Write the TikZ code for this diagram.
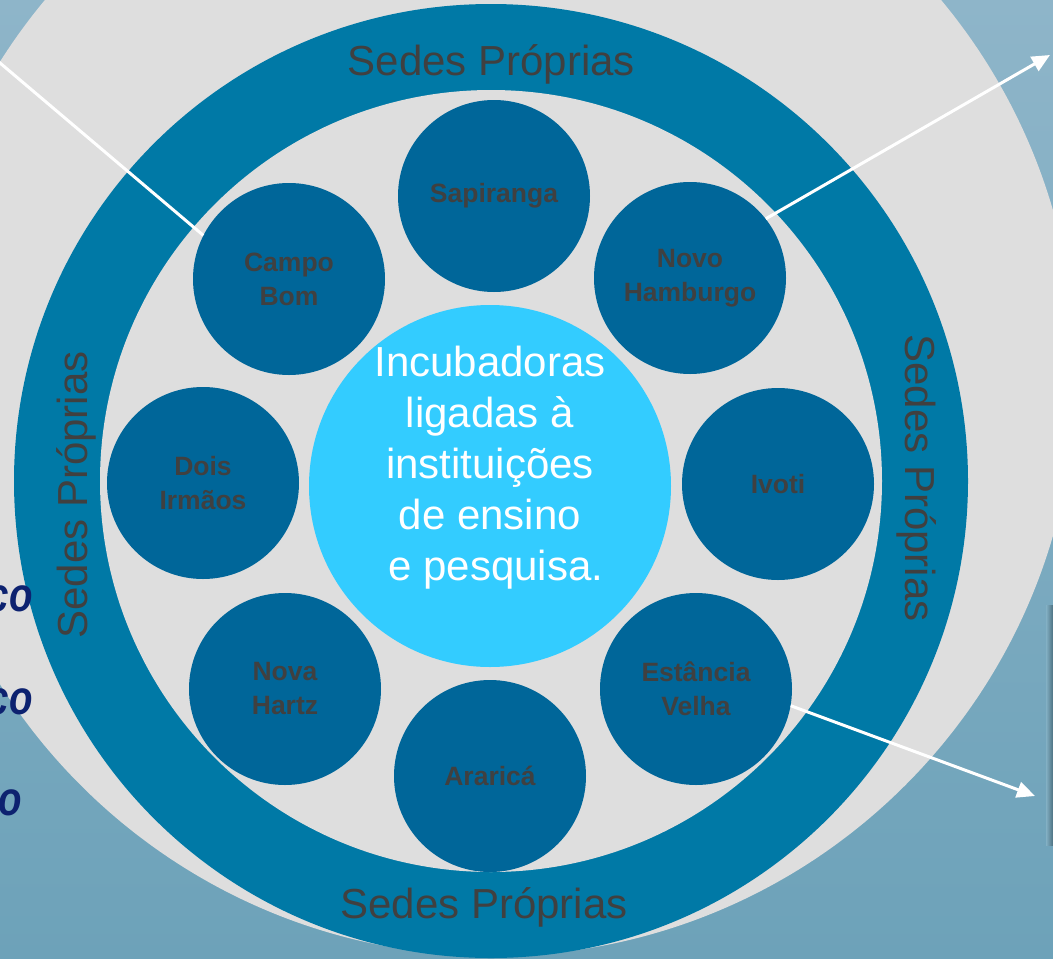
\documentclass[tikz,border=0pt]{standalone}
\usepackage{fontspec}
\setmainfont{Liberation Sans}
\usetikzlibrary{arrows.meta,calc}
\definecolor{bgtop}{HTML}{8EB5C9}
\definecolor{bgbot}{HTML}{6DA2B9}
\definecolor{disc}{HTML}{DEDEDE}
\definecolor{ringblue}{HTML}{0079A6}
\definecolor{townblue}{HTML}{006699}
\definecolor{coreblue}{HTML}{33CCFF}
\definecolor{txtgray}{HTML}{404040}
\definecolor{navy}{HTML}{0D2270}
\begin{document}
\begin{tikzpicture}[x=1pt,y=-1pt,
  town/.style={circle, fill=townblue, minimum size=192pt, inner sep=0pt, align=center,
    text=txtgray, font=\fontsize{26.5}{34}\selectfont\bfseries},
  sedes/.style={text=txtgray, font=\fontsize{42}{50}\selectfont, anchor=base, inner sep=0pt},
  link/.style={white, line width=3pt},
  arr/.style={link, -{Triangle[length=18pt,width=16pt]}},
  frag/.style={text=navy, font=\fontsize{48}{48}\selectfont\bfseries\itshape, anchor=base east, inner sep=0pt}]
\useasboundingbox (0,0) rectangle (1053,959);
% background
\fill[top color=bgtop, bottom color=bgbot] (0,0) rectangle (1053,959);
\shade[left color=bgbot!85!white, right color=black!30!bgbot] (1046,605) rectangle (1053,845);
% big light disc
\fill[disc] (493,373) circle[radius=583pt];
% ring
\fill[ringblue] (491,481) circle[radius=477pt];
\fill[disc] (491,481) circle[radius=391pt];
% ring labels
\node[sedes] (stop) at (491.5,75) {Sedes Próprias};
\node[sedes] (sbot) at (484,918) {Sedes Próprias};
\node[sedes, rotate=90] (sleft) at (87,495) {Sedes Próprias};
\node[sedes, rotate=-90] (sright) at (905,478) {Sedes Próprias};
% centre
\node[circle, fill=coreblue, minimum size=362pt, inner sep=0pt] (core) at (490,486) {};
\node[text=white, align=center, font=\fontsize{42}{51}\selectfont, inner sep=0pt] (coretext) at (490,468)
  {Incubadoras\\ligadas à\\instituições\\de ensino\\\ e pesquisa.};
% towns
\node[town] (sap) at (494,196) {Sapiranga};
\node[town] (nh) at (690,278) {Novo\\Hamburgo};
\node[town] (cb) at (289,279) {Campo\\Bom};
\node[town] (di) at (203,483) {Dois\\Irmãos};
\node[town] (iv) at (778,484) {Ivoti};
\node[town] (nhz) at (285,689) {Nova\\Hartz};
\node[town] (ev) at (696,689) {Estância\\Velha};
\node[town] (ara) at (490,776) {Araricá};
% connectors
\coordinate (offleft) at (-20,46);
\coordinate (tipne) at (1050,55);
\coordinate (tipse) at (1035,796);
\draw[link] (cb.153) -- (offleft);
\draw[arr] (nh.38) -- (tipne);
\draw[arr] (ev.-10) -- (tipse);
% clipped text fragments at the left edge
\node[frag] (f1) at (33,611) {\scalebox{0.8}[1]{co}};
\node[frag] (f2) at (33,714) {\scalebox{0.8}[1]{co}};
\node[frag] (f3) at (22,815) {\scalebox{0.8}[1]{o}};
\end{tikzpicture}
\end{document}
